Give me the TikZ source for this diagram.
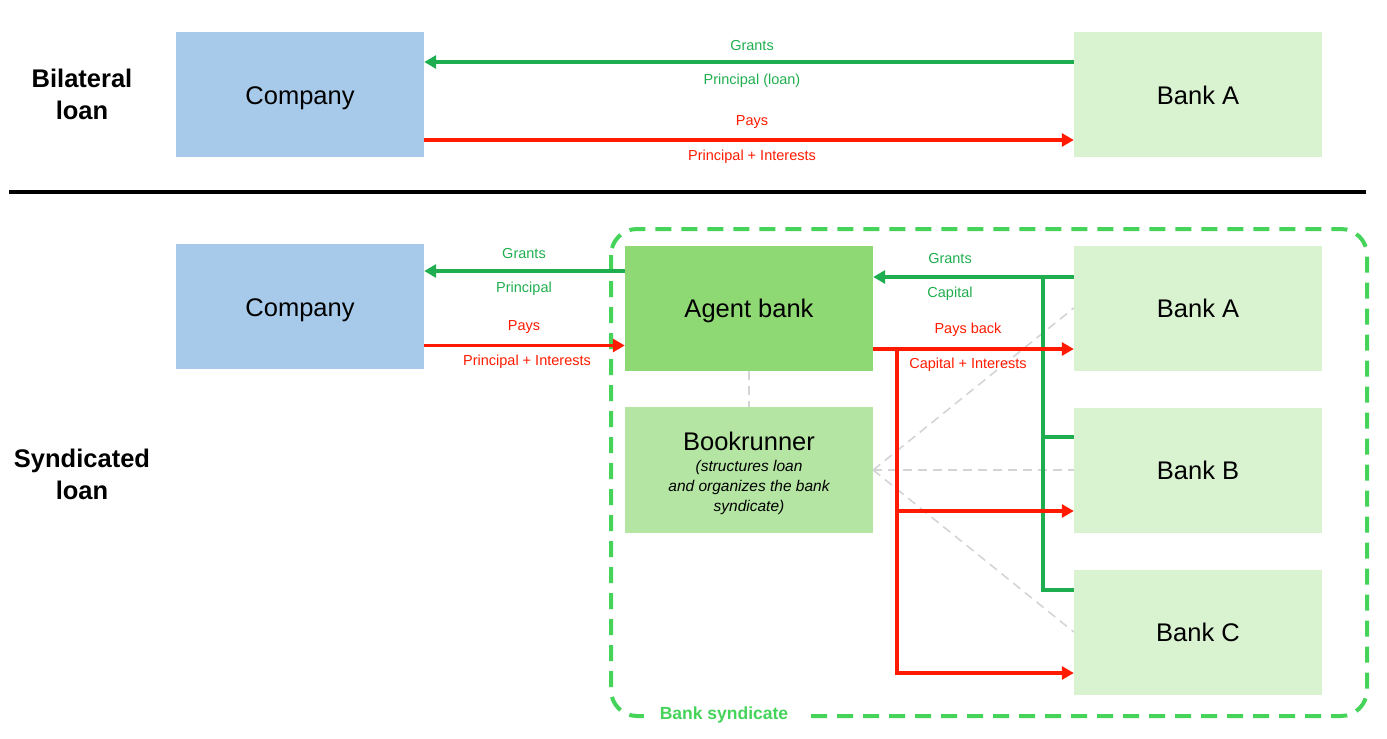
\documentclass[tikz,border=0pt]{standalone}
\usepackage{fontspec}
\setmainfont{Liberation Sans}
\usetikzlibrary{arrows.meta}
\definecolor{cblue}{HTML}{A7C9EA}
\definecolor{bankg}{HTML}{D9F2D0}
\definecolor{agentg}{HTML}{8FD975}
\definecolor{bookg}{HTML}{B4E5A2}
\definecolor{arrg}{HTML}{1FAE4F}
\definecolor{arrr}{HTML}{FF1A00}
\definecolor{frameg}{HTML}{45D35A}
\definecolor{dgray}{HTML}{D4D4D4}
\tikzset{
  box/.style={rectangle, inner sep=0pt, minimum width=248pt, minimum height=125pt, text height=19pt, text depth=0pt, font=\fontsize{25.5}{28}\selectfont},
  garrow/.style={draw=arrg, line width=3.5pt, -{Triangle[length=12pt,width=13pt]}},
  gline/.style={draw=arrg, line width=3.5pt},
  rarrow/.style={draw=arrr, line width=3.5pt, -{Triangle[length=12pt,width=13pt]}},
  rline/.style={draw=arrr, line width=3.5pt},
  glab/.style={text=arrg, font=\fontsize{14.5}{16}\selectfont, inner sep=0pt},
  rlab/.style={text=arrr, font=\fontsize{14.5}{16}\selectfont, inner sep=0pt},
  sect/.style={font=\bfseries\fontsize{25.5}{32}\selectfont, align=center, inner sep=0pt},
  graydash/.style={draw=dgray, line width=1.6pt, dash pattern=on 9pt off 6pt}
}
\begin{document}
\begin{tikzpicture}[x=1pt,y=-1pt]
\useasboundingbox (0,0) rectangle (1387,739);

% top section
\node[sect] (bil) at (82,94) {Bilateral\\loan};
\node[box, fill=cblue] (comp1) at (300,94.5) {Company};
\node[box, fill=bankg] (bankA1) at (1198,94.5) {Bank A};
\coordinate (g1) at ([yshift=32.5pt]bankA1.west);
\draw[garrow] (g1) -- (g1 -| comp1.east);
\coordinate (r1) at ([yshift=-45.5pt]comp1.east);
\draw[rarrow] (r1) -- (r1 -| bankA1.west);
\node[glab] (t1) at (752,46) {Grants};
\node[glab] (t2) at (752,81) {Principal (loan)};
\node[rlab] (t3) at (752,122) {Pays};
\node[rlab] (t4) at (752,157) {Principal + Interests};

% separator
\coordinate (sepL) at (9,192);
\coordinate (sepR) at (1366,192);
\draw[line width=4pt] (sepL) -- (sepR);

% syndicate frame
\draw[draw=frameg, line width=4pt, dash pattern=on 16pt off 10pt, rounded corners=26pt] (611,229) rectangle (1367,716);
\node[fill=white, text=frameg, font=\bfseries\fontsize{17.5}{20}\selectfont, inner xsep=16pt, inner ysep=4pt] (synd) at (724,715) {Bank syndicate};

% bottom section
\node[sect] (syn) at (82,474) {Syndicated\\loan};
\node[box, fill=cblue] (comp2) at (300,306.5) {Company};
\node[box, fill=agentg] (agent) at (749,308) {Agent bank};
\node[box, fill=bookg, minimum height=126pt] (book) at (749,470) {};
\node[font=\fontsize{25.5}{28}\selectfont, inner sep=0pt] (booktitle) at (749,441) {Bookrunner};
\node[font=\itshape\fontsize{15.5}{20}\selectfont, align=center, inner sep=0pt] (booksub) at (749,487) {(structures loan\\and organizes the bank\\syndicate)};
\node[box, fill=bankg] (bankA2) at (1198,308) {Bank A};
\node[box, fill=bankg] (bankB) at (1198,470) {Bank B};
\node[box, fill=bankg] (bankC) at (1198,632) {Bank C};

% gray dashed links
\draw[graydash] (agent.south) -- (book.north);
\draw[graydash] (book.east) -- (bankA2.west);
\draw[graydash] (book.east) -- (bankB.west);
\draw[graydash] (book.east) -- (bankC.west);

% company <-> agent
\coordinate (g2) at ([yshift=37pt]agent.west);
\draw[garrow] (g2) -- (g2 -| comp2.east);
\coordinate (r2) at ([yshift=-39pt]comp2.east);
\draw[rarrow] (r2) -- (r2 -| agent.west);
\node[glab] (t5) at (524,254) {Grants};
\node[glab] (t6) at (524,289) {Principal};
\node[rlab] (t7) at (524,327) {Pays};
\node[rlab] (t8) at (527,362) {Principal + Interests};

% banks -> agent (green)
\coordinate (gA) at ([yshift=31pt]bankA2.west);
\coordinate (gB) at ([yshift=33pt]bankB.west);
\coordinate (gC) at ([yshift=42pt]bankC.west);
\coordinate (gv) at ([xshift=-31pt]gA);
\draw[garrow] (gA) -- (gA -| agent.east);
\draw[gline] (gC) -| (gv);
\draw[gline] (gB) -- (gB -| gv);
\node[glab] (t9) at (950,259) {Grants};
\node[glab] (t10) at (950,294) {Capital};

% agent -> banks (red)
\coordinate (rA) at ([yshift=-41pt]agent.east);
\coordinate (rB) at ([yshift=-41pt]bankB.west);
\coordinate (rC) at ([yshift=-41pt]bankC.west);
\coordinate (rv) at ([xshift=24pt]rA);
\draw[rarrow] (rA) -- (rA -| bankA2.west);
\draw[rarrow] (rv) |- (rC);
\draw[rarrow] (rv |- rB) -- (rB);
\node[rlab] (t11) at (968,330) {Pays back};
\node[rlab] (t12) at (968,365) {Capital + Interests};
\end{tikzpicture}
\end{document}
